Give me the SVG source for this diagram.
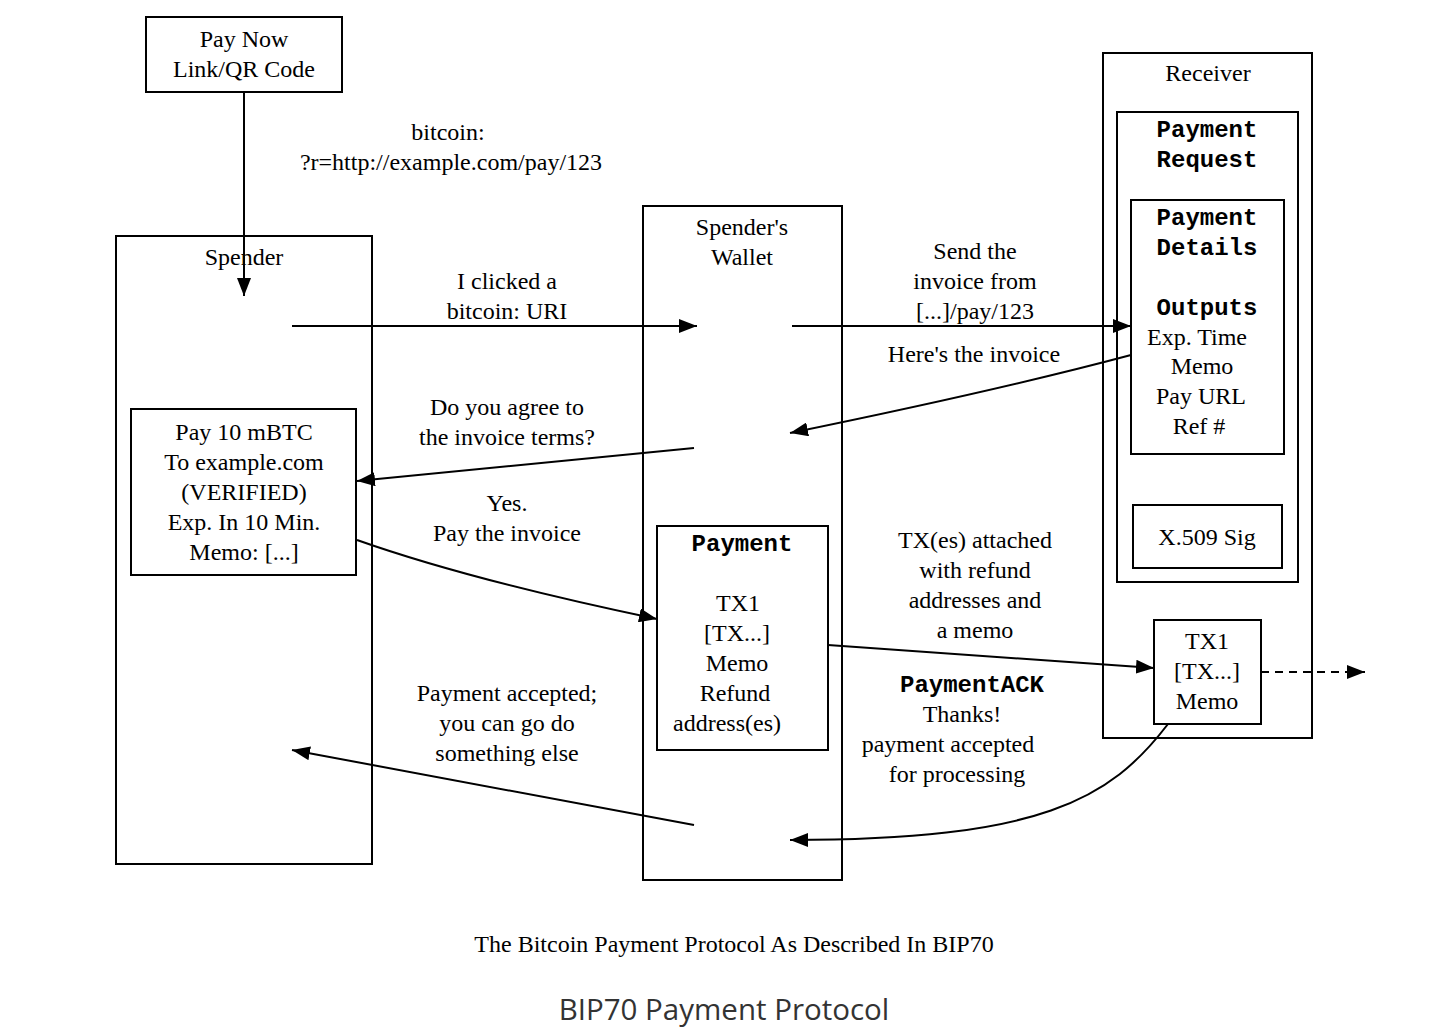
<svg xmlns="http://www.w3.org/2000/svg" width="1434" height="1034" viewBox="0 0 1434 1034">
<defs>
<marker id="ah" markerUnits="userSpaceOnUse" markerWidth="20" markerHeight="14" refX="18" refY="7" orient="auto">
<path d="M0,0 L18,7 L0,14 Z" fill="#000"/>
</marker>
</defs>
<style>
.b{fill:#fff;stroke:#000;stroke-width:2}
.t{font-family:"Liberation Serif","Times New Roman",serif;font-size:24px;fill:#000;text-anchor:middle}
.m{font-family:"Liberation Mono","Courier New",monospace;font-size:24px;font-weight:bold;fill:#000;text-anchor:middle}
.e{fill:none;stroke:#000;stroke-width:2;marker-end:url(#ah)}
</style>
<rect width="1434" height="1034" fill="#fff"/>
<g id="paynow">
<rect class="b" x="146" y="17" width="196" height="75"/>
<text class="t" x="244" y="47">Pay Now</text>
<text class="t" x="244" y="77">Link/QR Code</text>
</g>
<g id="spender">
<rect class="b" x="116" y="236" width="256" height="628"/>
<text class="t" x="244" y="265">Spender</text>
</g>
<g id="wallet">
<rect class="b" x="643" y="206" width="199" height="674"/>
<text class="t" x="742" y="235">Spender's</text>
<text class="t" x="742" y="265">Wallet</text>
</g>
<g id="receiver">
<rect class="b" x="1103" y="53" width="209" height="685"/>
<text class="t" x="1208" y="81">Receiver</text>
</g>
<g id="paymentrequest">
<rect class="b" x="1117" y="112" width="181" height="470"/>
<text class="m" x="1207" y="137">Payment</text>
<text class="m" x="1207" y="167">Request</text>
</g>
<g id="paymentdetails">
<rect class="b" x="1131" y="200" width="153" height="254"/>
<text class="m" x="1207" y="225">Payment</text>
<text class="m" x="1207" y="255">Details</text>
<text class="m" x="1207" y="315">Outputs</text>
<text class="t" x="1197" y="345">Exp. Time</text>
<text class="t" x="1202" y="374">Memo</text>
<text class="t" x="1201" y="404">Pay URL</text>
<text class="t" x="1199" y="434">Ref #</text>
</g>
<g id="x509">
<rect class="b" x="1133" y="505" width="149" height="63"/>
<text class="t" x="1207" y="545">X.509 Sig</text>
</g>
<g id="rtx">
<rect class="b" x="1154" y="620" width="107" height="104"/>
<text class="t" x="1207" y="649">TX1</text>
<text class="t" x="1207" y="679">[TX...]</text>
<text class="t" x="1207" y="709">Memo</text>
</g>
<g id="invoice">
<rect class="b" x="131" y="409" width="225" height="166"/>
<text class="t" x="244" y="440">Pay 10 mBTC</text>
<text class="t" x="244" y="470">To example.com</text>
<text class="t" x="244" y="500">(VERIFIED)</text>
<text class="t" x="244" y="530">Exp. In 10 Min.</text>
<text class="t" x="244" y="560">Memo: [...]</text>
</g>
<g id="payment">
<rect class="b" x="657" y="526" width="171" height="224"/>
<text class="m" x="742" y="551">Payment</text>
<text class="t" x="738" y="611">TX1</text>
<text class="t" x="737" y="641">[TX...]</text>
<text class="t" x="737" y="671">Memo</text>
<text class="t" x="735" y="701">Refund</text>
<text class="t" x="727" y="731">address(es)</text>
</g>
<g id="connectors">
<path class="e" d="M244,92 L244,296"/>
<path class="e" d="M292,326 L697,326"/>
<path class="e" d="M792,326 L1131,326"/>
<path class="e" d="M1131,355 Q1000,390 790,433"/>
<path class="e" d="M694,448 L357,481"/>
<path class="e" d="M357,540 Q470,580 657,619"/>
<path class="e" d="M828,645 L1154,668"/>
<path class="e" d="M1168,724 C1110,800 1040,840 790,840"/>
<path class="e" d="M694,825 L292,750"/>
<path class="e" d="M1261,672 L1365,672" stroke-dasharray="8,6"/>
</g>
<g id="labels">
<text class="t" x="448" y="140">bitcoin:</text>
<text class="t" x="451" y="170">?r=http://example.com/pay/123</text>
<text class="t" x="507" y="289">I clicked a</text>
<text class="t" x="507" y="319">bitcoin: URI</text>
<text class="t" x="975" y="259">Send the</text>
<text class="t" x="975" y="289">invoice from</text>
<text class="t" x="975" y="319">[...]/pay/123</text>
<text class="t" x="974" y="362">Here's the invoice</text>
<text class="t" x="507" y="415">Do you agree to</text>
<text class="t" x="507" y="445">the invoice terms?</text>
<text class="t" x="507" y="511">Yes.</text>
<text class="t" x="507" y="541">Pay the invoice</text>
<text class="t" x="975" y="548">TX(es) attached</text>
<text class="t" x="975" y="578">with refund</text>
<text class="t" x="975" y="608">addresses and</text>
<text class="t" x="975" y="638">a memo</text>
<text class="m" x="972" y="692">PaymentACK</text>
<text class="t" x="962" y="722">Thanks!</text>
<text class="t" x="948" y="752">payment accepted</text>
<text class="t" x="957" y="782">for processing</text>
<text class="t" x="507" y="701">Payment accepted;</text>
<text class="t" x="507" y="731">you can go do</text>
<text class="t" x="507" y="761">something else</text>
</g>
<text class="t" x="734" y="952">The Bitcoin Payment Protocol As Described In BIP70</text>
<text x="724" y="1020" style="font-family:'Open Sans','Noto Sans',sans-serif;font-size:29.5px;fill:#333;text-anchor:middle">BIP70 Payment Protocol</text>
</svg>
